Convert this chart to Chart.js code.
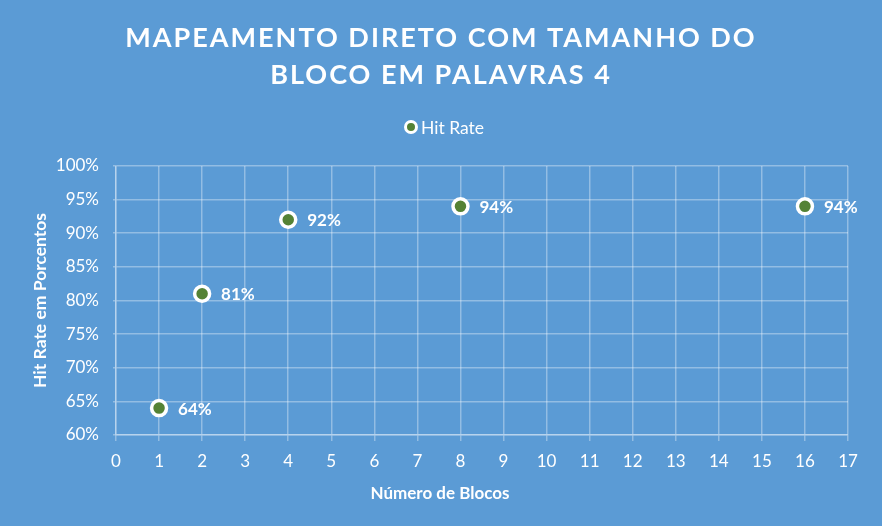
<!DOCTYPE html>
<html><head><meta charset="utf-8">
<script src="https://cdn.jsdelivr.net/npm/chart.js@4"></script>
<style>html,body{margin:0;padding:0;background:#5B9BD5;overflow:hidden}</style>
</head><body>
<canvas id="c" width="882" height="526"></canvas>
<script>
const titleLines = ['MAPEAMENTO DIRETO COM TAMANHO DO', 'BLOCO EM PALAVRAS 4'];
const seriesName = 'Hit Rate';
const xAxisTitle = 'Número de Blocos';
const yAxisTitle = 'Hit Rate em Porcentos';
const blocks = [1, 2, 4, 8, 16];
const hitRates = [0.64, 0.81, 0.92, 0.94, 0.94];
const xRange = [0, 17];
const yRange = [0.60, 1.00];

const FONT = 'Lato, "Open Sans", sans-serif';
const GRID = 'rgba(255,255,255,0.34)';

const overlay = {
  id: 'overlay',
  afterDatasetsDraw(chart) {
    const ctx = chart.ctx;
    const meta = chart.getDatasetMeta(0);
    ctx.save();
    ctx.fillStyle = '#fff';
    ctx.font = 'bold 17px ' + FONT;
    ctx.textAlign = 'left';
    ctx.textBaseline = 'middle';
    meta.data.forEach((pt, i) => {
      const v = chart.data.datasets[0].data[i].y;
      ctx.fillText(Math.round(v * 100) + '%', pt.x + 19, pt.y + 1);
    });
    ctx.restore();
  },
  afterDraw(chart) {
    const ctx = chart.ctx;
    ctx.save();
    ctx.fillStyle = '#fff';
    ctx.font = 'bold 27px ' + FONT;
    ctx.letterSpacing = '2px';
    ctx.textAlign = 'center';
    ctx.textBaseline = 'middle';
    ctx.fillText(titleLines[0], 441, 38);
    ctx.fillText(titleLines[1], 441, 75);
    ctx.letterSpacing = '0px';
    // x axis title, centred on the whole chart
    ctx.font = 'bold 17px ' + FONT;
    ctx.fillText(xAxisTitle, 440, 494);
    // legend
    ctx.font = '17.5px ' + FONT;
    const cy = 127;
    const mx = 411;
    ctx.beginPath();
    ctx.arc(mx, cy, 5.5, 0, Math.PI * 2);
    ctx.fillStyle = '#548235';
    ctx.fill();
    ctx.lineWidth = 3;
    ctx.strokeStyle = '#fff';
    ctx.stroke();
    ctx.fillStyle = '#fff';
    ctx.textAlign = 'left';
    ctx.fillText(seriesName, mx + 10, cy + 1);
    ctx.restore();
  }
};

new Chart(document.getElementById('c'), {
  type: 'scatter',
  data: {
    datasets: [{
      label: seriesName,
      data: blocks.map((b, i) => ({ x: b, y: hitRates[i] })),
      backgroundColor: '#548235',
      borderColor: '#ffffff',
      borderWidth: 3.5,
      pointRadius: 7.5,
      pointHoverRadius: 7.5
    }]
  },
  options: {
    responsive: false,
    animation: false,
    devicePixelRatio: 1,
    layout: { padding: { top: 166, right: 34, left: 0, bottom: 0 } },
    plugins: { legend: { display: false }, title: { display: false }, tooltip: { enabled: false } },
    scales: {
      x: {
        type: 'linear', min: xRange[0], max: xRange[1],
        afterFit(s) { s.height = 91; },
        ticks: { stepSize: 1, color: '#fff', font: { family: FONT, size: 17 }, padding: 10 },
        grid: { color: GRID, lineWidth: 1.5, tickLength: 6, drawTicks: true },
        border: { color: GRID, width: 1.5 },
        title: { display: false }
      },
      y: {
        type: 'linear', min: yRange[0], max: yRange[1],
        afterFit(s) { s.width = 116; },
        ticks: { stepSize: 0.05, color: '#fff', font: { family: FONT, size: 17 }, padding: 14,
          callback: v => Math.round(v * 100) + '%' },
        grid: { color: GRID, lineWidth: 1.5, tickLength: 3, drawTicks: true },
        border: { color: GRID, width: 1.5 },
        title: { display: true, text: yAxisTitle, color: '#fff', font: { family: FONT, size: 17.5, weight: 'bold' }, padding: { top: 30, bottom: 0 } }
      }
    }
  },
  plugins: [overlay]
});
</script>
</body></html>
